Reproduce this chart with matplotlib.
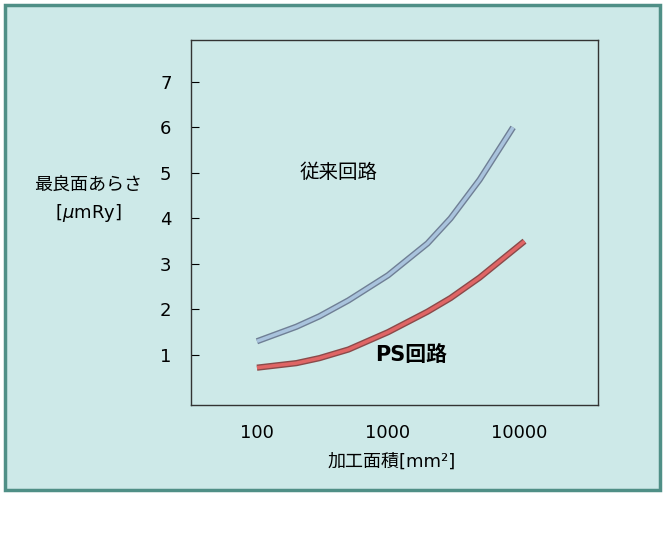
import numpy as np
import matplotlib.pyplot as plt
from matplotlib.patches import Rectangle

plt.rcParams['font.family'] = ['DejaVu Sans', 'Noto Sans CJK JP']

area = [100, 200, 300, 500, 1000, 2000, 3000, 5000, 9000]
conv = [1.3, 1.62, 1.85, 2.2, 2.75, 3.45, 4.0, 4.85, 6.0]
area_ps = [100, 200, 300, 500, 1000, 2000, 3000, 5000, 11000]
ps = [0.72, 0.82, 0.93, 1.12, 1.5, 1.95, 2.25, 2.7, 3.5]
yticks = [1, 2, 3, 4, 5, 6, 7]
xticks = [100, 1000, 10000]
xlabels = ['100', '1000', '10000']

fig = plt.figure(figsize=(6.63, 5.33), dpi=100)
fig.patches.append(Rectangle((5/663, 1-490/533), 655/663, 485/533, transform=fig.transFigure,
                             facecolor='#cde9e8', edgecolor='#4f8f86', linewidth=2.5, zorder=-1))
ax = fig.add_axes([191/663, 1-405/533, 407/663, 365/533])
ax.set_facecolor('#cde9e8')
ax.set_xscale('log')
ax.set_xlim(31.4, 40000)
ax.set_ylim(-0.1, 7.92)

ax.plot(area, conv, color='#6f7f95', lw=4.5, solid_capstyle='butt', solid_joinstyle='round')
ax.plot(area, conv, color='#a9c3dd', lw=2.5, solid_capstyle='butt', solid_joinstyle='round')
ax.plot(area_ps, ps, color='#8a4a4a', lw=4.5, solid_capstyle='butt', solid_joinstyle='round')
ax.plot(area_ps, ps, color='#e06565', lw=2.5, solid_capstyle='butt', solid_joinstyle='round')

ax.set_yticks(yticks)
ax.set_yticklabels([str(v) for v in yticks], fontsize=13)
ax.set_xticks(xticks)
ax.set_xticklabels(xlabels, fontsize=13)
ax.xaxis.set_minor_locator(plt.NullLocator())
ax.tick_params(axis='x', length=0, pad=14)
ax.tick_params(axis='y', direction='in', length=6, pad=14)
for s in ax.spines.values():
    s.set_color('#333333')
    s.set_linewidth(1)

ax.text(420, 5.0, '従来回路', fontsize=14, ha='center', va='center')
ax.text(1500, 1.0, 'PS回路', fontsize=15, fontweight='bold', ha='center', va='center')
fig.text(88/663, 1-185/533, '最良面あらさ', fontsize=13, ha='center', va='center')
fig.text(88/663, 1-213/533, '[$\\mu$mRy]', fontsize=13, ha='center', va='center')
fig.text(392/663, 1-462/533, '加工面積[mm²]', fontsize=13, ha='center', va='center')

fig.savefig('out.png', dpi=100)
